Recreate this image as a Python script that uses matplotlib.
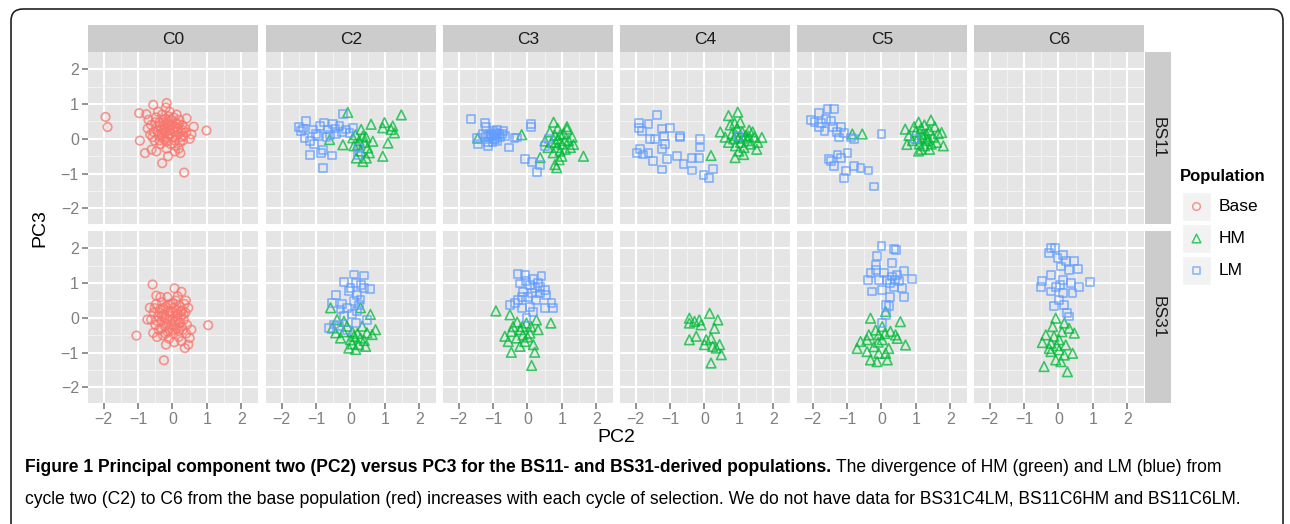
import matplotlib
matplotlib.use("Agg")
import matplotlib.pyplot as plt
from matplotlib.patches import FancyBboxPatch, Rectangle

# ---- data: (PC2, PC3) pairs ----
bs11_c0_base = [(-1.95, 0.63), (-1.89, 0.34), (0.99, 0.24), (0.34, -0.97), (-0.30, -0.70), (-0.56, 0.98),
                (-0.17, 1.03), (-0.19, 0.90), (-0.97, 0.74), (-0.76, 0.71), (-0.95, -0.05), (-0.80, -0.41),
                (-0.47, -0.36), (-0.13, -0.50), (0.23, -0.41), (0.41, 0.59), (0.62, 0.35), (0.55, 0.13),
                (0.50, 0.00), (0.31, -0.04), (0.07, -0.36), (-0.17, -0.28), (-0.61, -0.31), (-0.70, 0.55),
                (-0.62, 0.40), (-0.55, 0.20), (-0.48, 0.62), (-0.45, 0.35), (-0.40, 0.10), (-0.38, 0.48),
                (-0.33, 0.27), (-0.30, 0.70), (-0.28, 0.05), (-0.25, 0.40), (-0.22, 0.18), (-0.20, 0.58),
                (-0.18, -0.08), (-0.15, 0.32), (-0.12, 0.12), (-0.10, 0.50), (-0.08, 0.25), (-0.05, -0.15),
                (-0.02, 0.40), (0.00, 0.05), (0.03, 0.62), (0.05, 0.22), (0.08, -0.20), (0.10, 0.45),
                (0.13, 0.10), (0.16, 0.30), (0.20, 0.55), (0.22, -0.10), (0.25, 0.20), (0.28, 0.40),
                (0.32, 0.08), (0.35, 0.32), (-0.52, -0.05), (-0.65, 0.12), (-0.35, -0.15), (-0.42, 0.78),
                (-0.08, 0.78), (0.12, 0.70), (0.18, -0.28), (-0.58, 0.05), (-0.50, 0.48), (-0.43, 0.22),
                (-0.36, 0.38), (-0.31, 0.12), (-0.27, 0.55), (-0.24, -0.02), (-0.21, 0.30), (-0.16, 0.44),
                (-0.13, 0.02), (-0.09, 0.36), (-0.06, 0.15), (-0.03, 0.55), (0.02, 0.30), (0.06, -0.05),
                (0.09, 0.35), (0.14, 0.20), (0.18, 0.42), (0.24, 0.05), (0.30, 0.25), (-0.72, 0.30),
                (-0.38, -0.05), (0.40, 0.18), (-0.26, 0.25), (-0.12, 0.65)]
bs31_c0_base = [(-1.05, -0.51), (1.04, -0.21), (-0.25, -1.22), (-0.58, 0.96), (0.06, 0.85), (0.26, 0.75),
                (-0.47, 0.64), (0.39, 0.50), (0.46, 0.29), (-0.73, -0.05), (-0.66, 0.29), (-0.56, -0.43),
                (-0.19, -0.77), (0.36, -0.87), (0.46, -0.77), (0.55, -0.34), (0.50, -0.58), (0.26, -0.67),
                (-0.55, 0.15), (-0.50, -0.20), (-0.48, 0.40), (-0.42, 0.05), (-0.40, -0.35), (-0.36, 0.25),
                (-0.33, -0.10), (-0.30, 0.45), (-0.28, -0.50), (-0.25, 0.10), (-0.22, -0.25), (-0.20, 0.32),
                (-0.17, -0.05), (-0.14, -0.40), (-0.12, 0.20), (-0.10, -0.60), (-0.08, 0.05), (-0.05, 0.40),
                (-0.03, -0.20), (0.00, 0.15), (0.03, -0.45), (0.05, 0.30), (0.08, -0.08), (0.10, 0.50),
                (0.12, -0.30), (0.15, 0.10), (0.18, -0.55), (0.20, 0.35), (0.22, -0.15), (0.25, 0.05),
                (0.28, 0.22), (0.30, -0.35), (0.33, -0.05), (0.38, 0.15), (0.42, -0.20), (-0.45, -0.55),
                (-0.35, 0.60), (-0.15, 0.60), (0.15, 0.62), (0.05, -0.70), (-0.62, -0.05), (0.35, 0.40),
                (-0.46, -0.08), (-0.38, 0.15), (-0.32, -0.30), (-0.27, 0.28), (-0.23, 0.00), (-0.18, -0.18),
                (-0.13, 0.38), (-0.09, -0.32), (-0.06, 0.18), (-0.01, -0.05), (0.02, 0.42), (0.07, -0.22),
                (0.11, 0.22), (0.16, -0.08), (0.19, -0.38), (0.24, 0.18), (0.27, -0.25), (0.32, 0.10),
                (-0.52, 0.28), (-0.20, -0.45), (0.00, -0.35), (0.40, -0.45), (-0.30, 0.05), (0.10, 0.05)]

bs11_c2_lm = [(-1.49, 0.34), (-1.44, 0.22), (-1.29, 0.51), (-1.19, -0.07), (-1.19, -0.46), (-0.81, -0.84),
              (-0.81, -0.31), (-0.85, -0.41), (-0.53, -0.48), (-1.10, 0.27), (-0.76, 0.47), (-0.51, 0.42),
              (-0.22, 0.71), (-0.32, 0.37), (-0.13, 0.27), (-0.42, 0.13), (-0.95, 0.08), (0.21, -0.46),
              (0.26, -0.26), (-0.03, 0.17), (-0.66, 0.27), (-1.34, 0.03), (0.07, 0.32), (-1.00, 0.15),
              (-0.60, 0.10), (-0.25, 0.20), (-1.38, 0.30), (-0.88, 0.38), (-0.45, 0.30), (-0.70, 0.05),
              (-1.05, -0.15)]
bs11_c2_hm = [(-0.08, 0.76), (1.48, 0.69), (0.99, 0.47), (0.60, 0.42), (1.18, 0.27), (1.28, 0.17),
              (1.09, -0.12), (0.94, -0.50), (0.36, -0.65), (0.17, -0.55), (0.46, -0.55), (0.50, -0.26),
              (0.36, 0.08), (0.07, 0.03), (-0.22, -0.17), (0.31, 0.27), (0.21, -0.17), (-0.61, -0.02),
              (0.65, -0.07), (1.23, 0.37), (0.94, 0.32), (0.25, -0.05), (0.40, -0.10), (0.15, 0.12),
              (0.30, -0.35), (0.10, -0.20), (0.45, 0.05), (0.55, -0.40)]
bs31_c2_lm = [(-0.19, 1.03), (0.10, 1.25), (0.39, 1.22), (0.58, 0.84), (0.39, 0.87), (0.15, 1.01),
              (-0.05, 0.77), (0.19, 0.67), (0.29, 0.53), (-0.43, 0.67), (-0.53, 0.43), (-0.63, -0.29),
              (-0.48, -0.19), (-0.29, 0.24), (-0.10, 0.29), (-0.19, 0.05), (0.05, 0.10), (0.15, -0.14),
              (0.48, -0.05), (-0.10, -0.34), (-0.34, -0.24), (0.24, 0.38), (0.10, 0.48), (0.00, 0.87),
              (-0.25, 0.40), (0.20, 0.20), (0.30, 0.95)]
bs31_c2_hm = [(-0.58, 0.29), (0.29, 0.29), (0.58, 0.10), (0.73, -0.34), (-0.43, -0.43), (-0.29, -0.58),
              (-0.05, -0.87), (0.15, -0.91), (0.44, -0.82), (0.29, -0.58), (0.10, -0.53), (0.48, -0.43),
              (-0.10, -0.24), (-0.19, -0.10), (0.34, -0.24), (0.63, -0.48), (0.00, -0.63), (0.24, -0.77),
              (-0.39, -0.05), (-0.53, -0.29), (0.05, -0.40), (0.20, -0.45), (-0.20, -0.40), (0.40, -0.65),
              (0.05, -0.75)]

bs11_c3_lm = [(-1.64, 0.56), (-1.23, 0.46), (-1.21, 0.33), (-1.48, 0.02), (-1.43, -0.16), (-1.14, -0.22),
              (-0.94, 0.18), (-0.84, 0.14), (-1.04, 0.09), (-0.70, 0.23), (-0.65, 0.09), (-0.55, -0.25),
              (-0.38, 0.02), (-0.31, 0.04), (0.11, 0.43), (0.11, 0.35), (-0.07, -0.59), (0.13, -0.67),
              (0.27, -0.95), (0.37, -0.74), (0.51, -0.20), (0.61, -0.01), (-0.94, -0.01), (-1.14, 0.09),
              (-1.10, 0.05), (-1.05, 0.15), (-0.98, 0.00), (-0.92, 0.10), (-0.88, -0.05), (-1.00, 0.22),
              (-0.80, 0.05), (-1.20, 0.05), (-1.15, -0.10), (-0.75, 0.15), (-1.30, 0.15), (-1.02, -0.08),
              (-0.90, 0.25)]
bs11_c3_hm = [(-1.45, 0.02), (-0.17, 0.12), (0.76, 0.48), (1.15, 0.28), (1.63, -0.50), (0.85, -0.83),
              (0.80, -0.74), (0.51, -0.06), (0.37, -0.54), (1.34, -0.16), (0.70, -0.10), (0.80, 0.10),
              (0.85, -0.25), (0.90, 0.00), (0.95, -0.35), (1.00, -0.15), (1.05, 0.15), (1.10, -0.30),
              (1.20, -0.05), (1.25, -0.25), (0.75, -0.40), (0.65, 0.20), (0.88, 0.30), (1.30, 0.05),
              (0.60, -0.25), (1.00, -0.50), (0.92, -0.60), (1.15, 0.35), (0.82, -0.10), (1.08, -0.05),
              (0.95, 0.12)]
bs31_c3_lm = [(-0.27, 1.26), (-0.08, 1.23), (0.41, 1.20), (0.17, 1.13), (-0.22, 0.99), (0.07, 0.94),
              (0.36, 0.90), (0.50, 0.80), (0.55, 0.66), (-0.12, 0.75), (0.02, 0.61), (0.26, 0.51),
              (-0.51, 0.37), (-0.37, 0.42), (0.70, 0.42), (0.75, 0.28), (0.50, 0.28), (-0.17, 0.28),
              (0.07, 0.32), (0.17, 0.18), (-0.03, -0.01), (0.36, 0.70), (-0.27, 0.51), (0.21, 0.85),
              (-0.05, 1.05), (0.12, 0.72), (0.30, 1.00), (-0.15, 0.60)]
bs31_c3_hm = [(-0.92, 0.20), (-0.51, 0.09), (0.68, -0.15), (0.12, -1.37), (-0.47, -0.99), (0.21, -0.99),
              (-0.66, -0.53), (-0.56, -0.68), (-0.22, -0.82), (-0.08, -0.68), (0.17, -0.77), (0.31, -0.34),
              (0.07, -0.44), (-0.22, -0.34), (-0.42, -0.25), (-0.03, -0.15), (0.26, -0.06), (-0.32, -0.58),
              (-0.13, -0.49), (-0.47, -0.39), (0.10, -0.25), (-0.30, -0.12), (-0.15, -0.25), (0.00, -0.55)]

bs11_c4_lm = [(-1.39, 0.69), (-1.90, 0.45), (-1.90, 0.31), (-1.63, 0.43), (-1.24, 0.28), (-1.00, 0.31),
              (-1.19, 0.09), (-0.71, 0.09), (-0.71, 0.04), (-1.58, -0.01), (-1.44, -0.01), (-1.15, -0.16),
              (-0.13, -0.01), (-1.87, -0.30), (-1.97, -0.40), (-1.78, -0.45), (-1.63, -0.40), (-1.24, -0.30),
              (-1.10, -0.59), (-0.81, -0.50), (-0.61, -0.72), (-0.37, -0.54), (-0.17, -0.54), (-0.13, -0.25),
              (-1.24, -0.88), (-0.37, -0.91), (-0.03, -1.03), (0.12, -1.13), (0.26, -0.86), (0.99, 0.09),
              (-1.49, -0.64), (-1.83, 0.23)]
bs11_c4_hm = [(0.19, -0.48), (0.46, 0.20), (0.70, 0.67), (0.97, 0.77), (1.04, 0.48), (1.67, 0.04),
              (1.52, -0.30), (0.89, -0.54), (1.14, -0.45), (0.60, 0.05), (0.70, -0.10), (0.80, 0.15),
              (0.85, 0.00), (0.90, -0.20), (0.95, 0.30), (1.00, 0.05), (1.05, -0.10), (1.10, 0.20),
              (1.15, -0.25), (1.20, 0.10), (1.25, -0.05), (1.30, 0.25), (1.35, -0.15), (1.45, 0.05),
              (0.75, 0.40), (1.00, -0.35), (1.40, 0.20), (0.88, 0.45), (1.55, -0.10), (0.92, 0.10),
              (1.12, 0.02), (1.28, 0.08)]
bs31_c4_hm = [(-0.44, -0.01), (-0.44, -0.15), (-0.15, -0.06), (0.15, 0.13), (0.39, -0.06), (0.29, -0.30),
              (-0.10, -0.20), (-0.44, -0.63), (-0.24, -0.53), (0.05, -0.63), (0.19, -0.58), (0.44, -0.77),
              (0.49, -1.06), (0.19, -1.30), (0.00, -0.77), (0.24, -0.82), (0.34, -0.87), (-0.29, -0.10)]

bs11_c5_lm = [(-1.57, 0.86), (-1.38, 0.86), (-1.81, 0.74), (-2.05, 0.54), (-1.95, 0.48), (-1.81, 0.35),
              (-1.62, 0.57), (-1.47, 0.52), (-1.42, 0.33), (-1.66, 0.23), (-1.18, 0.33), (-1.09, 0.18),
              (-1.23, 0.04), (-0.89, 0.04), (-0.80, -0.01), (0.00, 0.14), (-1.28, -0.45), (-1.47, -0.64),
              (-1.38, -0.79), (-1.18, -0.54), (-0.99, -0.40), (-1.04, -0.93), (-1.09, -1.13), (-0.80, -0.79),
              (-0.61, -0.83), (-0.38, -0.91), (-0.22, -1.37), (-1.52, -0.59), (0.98, -0.01), (-1.75, 0.45),
              (-1.30, 0.20)]
bs11_c5_hm = [(-0.85, 0.14), (-0.56, 0.14), (0.69, 0.28), (1.08, 0.48), (1.44, 0.54), (1.75, 0.18),
              (1.80, -0.20), (1.08, -0.35), (0.74, -0.16), (0.80, 0.10), (0.90, -0.05), (1.00, 0.20),
              (1.05, 0.00), (1.10, -0.15), (1.15, 0.30), (1.20, 0.05), (1.25, -0.20), (1.30, 0.15),
              (1.35, -0.05), (1.40, 0.25), (1.45, -0.15), (1.50, 0.05), (1.55, 0.35), (1.60, -0.10),
              (1.65, 0.15), (0.95, 0.35), (1.25, 0.40), (1.15, -0.30), (1.40, -0.30), (1.18, 0.12),
              (1.32, 0.00)]
bs31_c5_lm = [(0.00, 2.06), (0.36, 1.98), (0.43, 1.96), (-0.13, 1.77), (-0.17, 1.53), (0.31, 1.58),
              (-0.32, 1.29), (-0.39, 1.10), (-0.17, 1.38), (0.07, 1.29), (0.31, 1.19), (0.65, 1.34),
              (0.89, 1.12), (0.50, 1.05), (0.36, 0.90), (0.02, 0.81), (-0.27, 0.76), (0.60, 0.86),
              (0.65, 0.60), (0.26, 0.60), (0.12, 0.38), (0.21, 0.33), (0.12, 0.09), (0.02, -0.15),
              (-0.08, 1.10), (0.17, 1.10), (0.46, 1.24), (0.25, 1.00), (0.40, 1.10)]
bs31_c5_hm = [(0.12, 0.18), (-0.32, -0.01), (0.55, -0.11), (-0.71, -0.88), (-0.61, -0.68), (-0.37, -0.49),
              (-0.17, -0.35), (0.02, -0.25), (0.26, -0.39), (0.41, -0.49), (0.70, -0.78), (0.46, -0.59),
              (0.21, -0.88), (-0.08, -1.02), (-0.32, -1.21), (-0.13, -1.26), (0.17, -1.21), (-0.42, -0.97),
              (-0.22, -0.83), (0.02, -0.63), (-0.08, -0.49), (-0.42, -0.63), (0.12, -1.02), (-0.10, -0.70),
              (0.10, -0.45)]

bs31_c6_lm = [(-0.22, 2.01), (-0.10, 2.01), (-0.27, 1.87), (0.12, 1.82), (-0.03, 1.72), (0.21, 1.63),
              (0.46, 1.63), (0.58, 1.40), (0.31, 1.38), (0.07, 1.48), (-0.22, 1.24), (-0.47, 1.05),
              (-0.52, 0.90), (0.91, 1.02), (0.60, 0.90), (0.36, 1.00), (0.12, 1.10), (-0.08, 0.90),
              (-0.22, 0.76), (0.12, 0.71), (0.41, 0.71), (0.02, 0.52), (-0.13, 0.35), (0.26, 0.13),
              (0.31, 0.04), (0.17, 0.38), (0.05, 0.95)]
bs31_c6_hm = [(-0.08, -0.01), (0.17, -0.15), (0.31, -0.30), (0.46, -0.44), (-0.17, -0.25), (-0.37, -0.49),
              (-0.47, -0.71), (-0.22, -0.73), (0.02, -0.63), (0.21, -0.78), (0.41, -1.02), (0.17, -1.07),
              (-0.08, -1.21), (-0.42, -1.40), (0.26, -1.55), (-0.22, -0.97), (0.02, -0.92), (0.07, -1.26),
              (-0.13, -0.53), (-0.27, -0.88), (0.10, -0.40), (-0.05, -0.80)]

cycles = ["C0", "C2", "C3", "C4", "C5", "C6"]
sources = ["BS11", "BS31"]
populations = ["Base", "HM", "LM"]
axis_ticks = [-2, -1, 0, 1, 2]

caption_bold = ("Figure 1 Principal component two (PC2) versus PC3 for the BS11- and "
                "BS31-derived populations.")
caption_rest = "The divergence of HM (green) and LM (blue) from"
caption_line2 = ("cycle two (C2) to C6 from the base population (red) increases with each cycle of "
                 "selection. We do not have data for BS31C4LM, BS11C6HM and BS11C6LM.")

panels = {
    ("BS11", "C0"): {"Base": bs11_c0_base},
    ("BS31", "C0"): {"Base": bs31_c0_base},
    ("BS11", "C2"): {"HM": bs11_c2_hm, "LM": bs11_c2_lm},
    ("BS31", "C2"): {"HM": bs31_c2_hm, "LM": bs31_c2_lm},
    ("BS11", "C3"): {"HM": bs11_c3_hm, "LM": bs11_c3_lm},
    ("BS31", "C3"): {"HM": bs31_c3_hm, "LM": bs31_c3_lm},
    ("BS11", "C4"): {"HM": bs11_c4_hm, "LM": bs11_c4_lm},
    ("BS31", "C4"): {"HM": bs31_c4_hm},
    ("BS11", "C5"): {"HM": bs11_c5_hm, "LM": bs11_c5_lm},
    ("BS31", "C5"): {"HM": bs31_c5_hm, "LM": bs31_c5_lm},
    ("BS31", "C6"): {"HM": bs31_c6_hm, "LM": bs31_c6_lm},
}

# ggplot-ish styling
colors = {"Base": "#F8766D", "HM": "#00BA38", "LM": "#619CFF"}
markers = {"Base": "o", "HM": "^", "LM": "s"}
sizes = {"Base": 38, "HM": 48, "LM": 32}
SANS = ["Liberation Sans", "DejaVu Sans"]

W, H = 1290, 524
fig = plt.figure(figsize=(W / 100, H / 100), dpi=100)
fig.patch.set_facecolor("white")


def px_box(x0, y0, x1, y1):
    return [x0 / W, 1 - y1 / H, (x1 - x0) / W, (y1 - y0) / H]


# overlay in pixel coords for border, strips, legend and caption
over = fig.add_axes([0, 0, 1, 1])
over.set_xlim(0, W)
over.set_ylim(H, 0)
over.axis("off")
over.add_patch(FancyBboxPatch((11, 9), 1272, 530, boxstyle="round,pad=0,rounding_size=12",
                              fill=False, ec="#222222", lw=1.2))

col_left = [88, 266, 443, 620, 797, 974]
panel_w = 170
row_top = [52, 231]
panel_h = 172

for r, src in enumerate(sources):
    for c, cyc in enumerate(cycles):
        x0, y0 = col_left[c], row_top[r]
        ax = fig.add_axes(px_box(x0, y0, x0 + panel_w, y0 + panel_h))
        ax.set_facecolor("#E5E5E5")
        ax.set_xlim(-2.46, 2.49)
        ax.set_ylim(-2.45, 2.5)
        for v in [-1.5, -0.5, 0.5, 1.5]:
            ax.axvline(v, color="#F2F2F2", lw=0.8, zorder=0)
            ax.axhline(v, color="#F2F2F2", lw=0.8, zorder=0)
        for v in axis_ticks:
            ax.axvline(v, color="white", lw=1.5, zorder=0)
            ax.axhline(v, color="white", lw=1.5, zorder=0)
        for s in ax.spines.values():
            s.set_visible(False)
        ax.set_xticks(axis_ticks)
        ax.set_yticks(axis_ticks)
        ax.tick_params(colors="#7F7F7F", labelcolor="#7F7F7F", length=4.5, width=1.2,
                       labelsize=11.5, pad=2)
        if c != 0:
            ax.tick_params(axis="y", left=False, labelleft=False)
        if r != 1:
            ax.tick_params(axis="x", bottom=False, labelbottom=False)
        for lab in ax.get_xticklabels() + ax.get_yticklabels():
            lab.set_family(SANS)

        for pop, pts in panels.get((src, cyc), {}).items():
            xs = [p[0] for p in pts]
            ys = [p[1] for p in pts]
            ax.scatter(xs, ys, s=sizes[pop], marker=markers[pop], facecolors="none",
                       edgecolors=colors[pop], linewidths=1.2, alpha=0.75, zorder=3)

        if r == 0:
            over.add_patch(Rectangle((x0, 25), panel_w, 27, fc="#CCCCCC", ec="none"))
            over.text(x0 + panel_w / 2, 39, cyc, ha="center", va="center", fontsize=12.5,
                      color="#1A1A1A", family=SANS)
    over.add_patch(Rectangle((1145, row_top[r]), 26, panel_h, fc="#CCCCCC", ec="none"))
    over.text(1158, row_top[r] + panel_h / 2, src, ha="center", va="center", rotation=-90,
              fontsize=12.5, color="#1A1A1A", family=SANS)

# axis titles
over.text(616, 438, "PC2", ha="center", va="center", fontsize=14, color="black", family=SANS)
over.text(40, 228, "PC3", ha="center", va="center", rotation=90, fontsize=14, color="black",
          family=SANS)

# legend
over.text(1180, 176, "Population", ha="left", va="center", fontsize=12, fontweight="bold",
          family=SANS)
for i, pop in enumerate(populations):
    ky = 192 + i * 32
    over.add_patch(Rectangle((1182, ky), 29, 29, fc="#F2F2F2", ec="white", lw=1))
    over.scatter([1196.5], [ky + 14.5], s=sizes[pop] * 0.8, marker=markers[pop], facecolors="none",
                 edgecolors=colors[pop], linewidths=1.1, alpha=0.75)
    over.text(1219, ky + 14.5, pop, ha="left", va="center", fontsize=12.5, family=SANS)

# caption: no narrow face installed, so fit the font size to the printed line widths
renderer = fig.canvas.get_renderer()
probe = over.text(25, 500, caption_line2, ha="left", va="center", fontsize=14, family=SANS)
cap_fs = 14 * 1227 / probe.get_window_extent(renderer).width
probe.set_fontsize(cap_fs)
t1 = over.text(25, 467, caption_bold, ha="left", va="center", fontsize=cap_fs,
               fontweight="bold", family=SANS)
bb = t1.get_window_extent(renderer)
t2 = over.text(bb.x1 + 5, 467, caption_rest, ha="left", va="center", fontsize=cap_fs,
               family=SANS)
# squeeze the first line if it runs past the right edge of the box
end = t2.get_window_extent(renderer).x1
if end > 1265:
    k = (1265 - 25) / (end - 25)
    t1.set_fontsize(cap_fs * k)
    bb = t1.get_window_extent(renderer)
    t2.set_fontsize(cap_fs * k)
    t2.set_x(bb.x1 + 5 * k)

fig.savefig("out.png", dpi=100)
